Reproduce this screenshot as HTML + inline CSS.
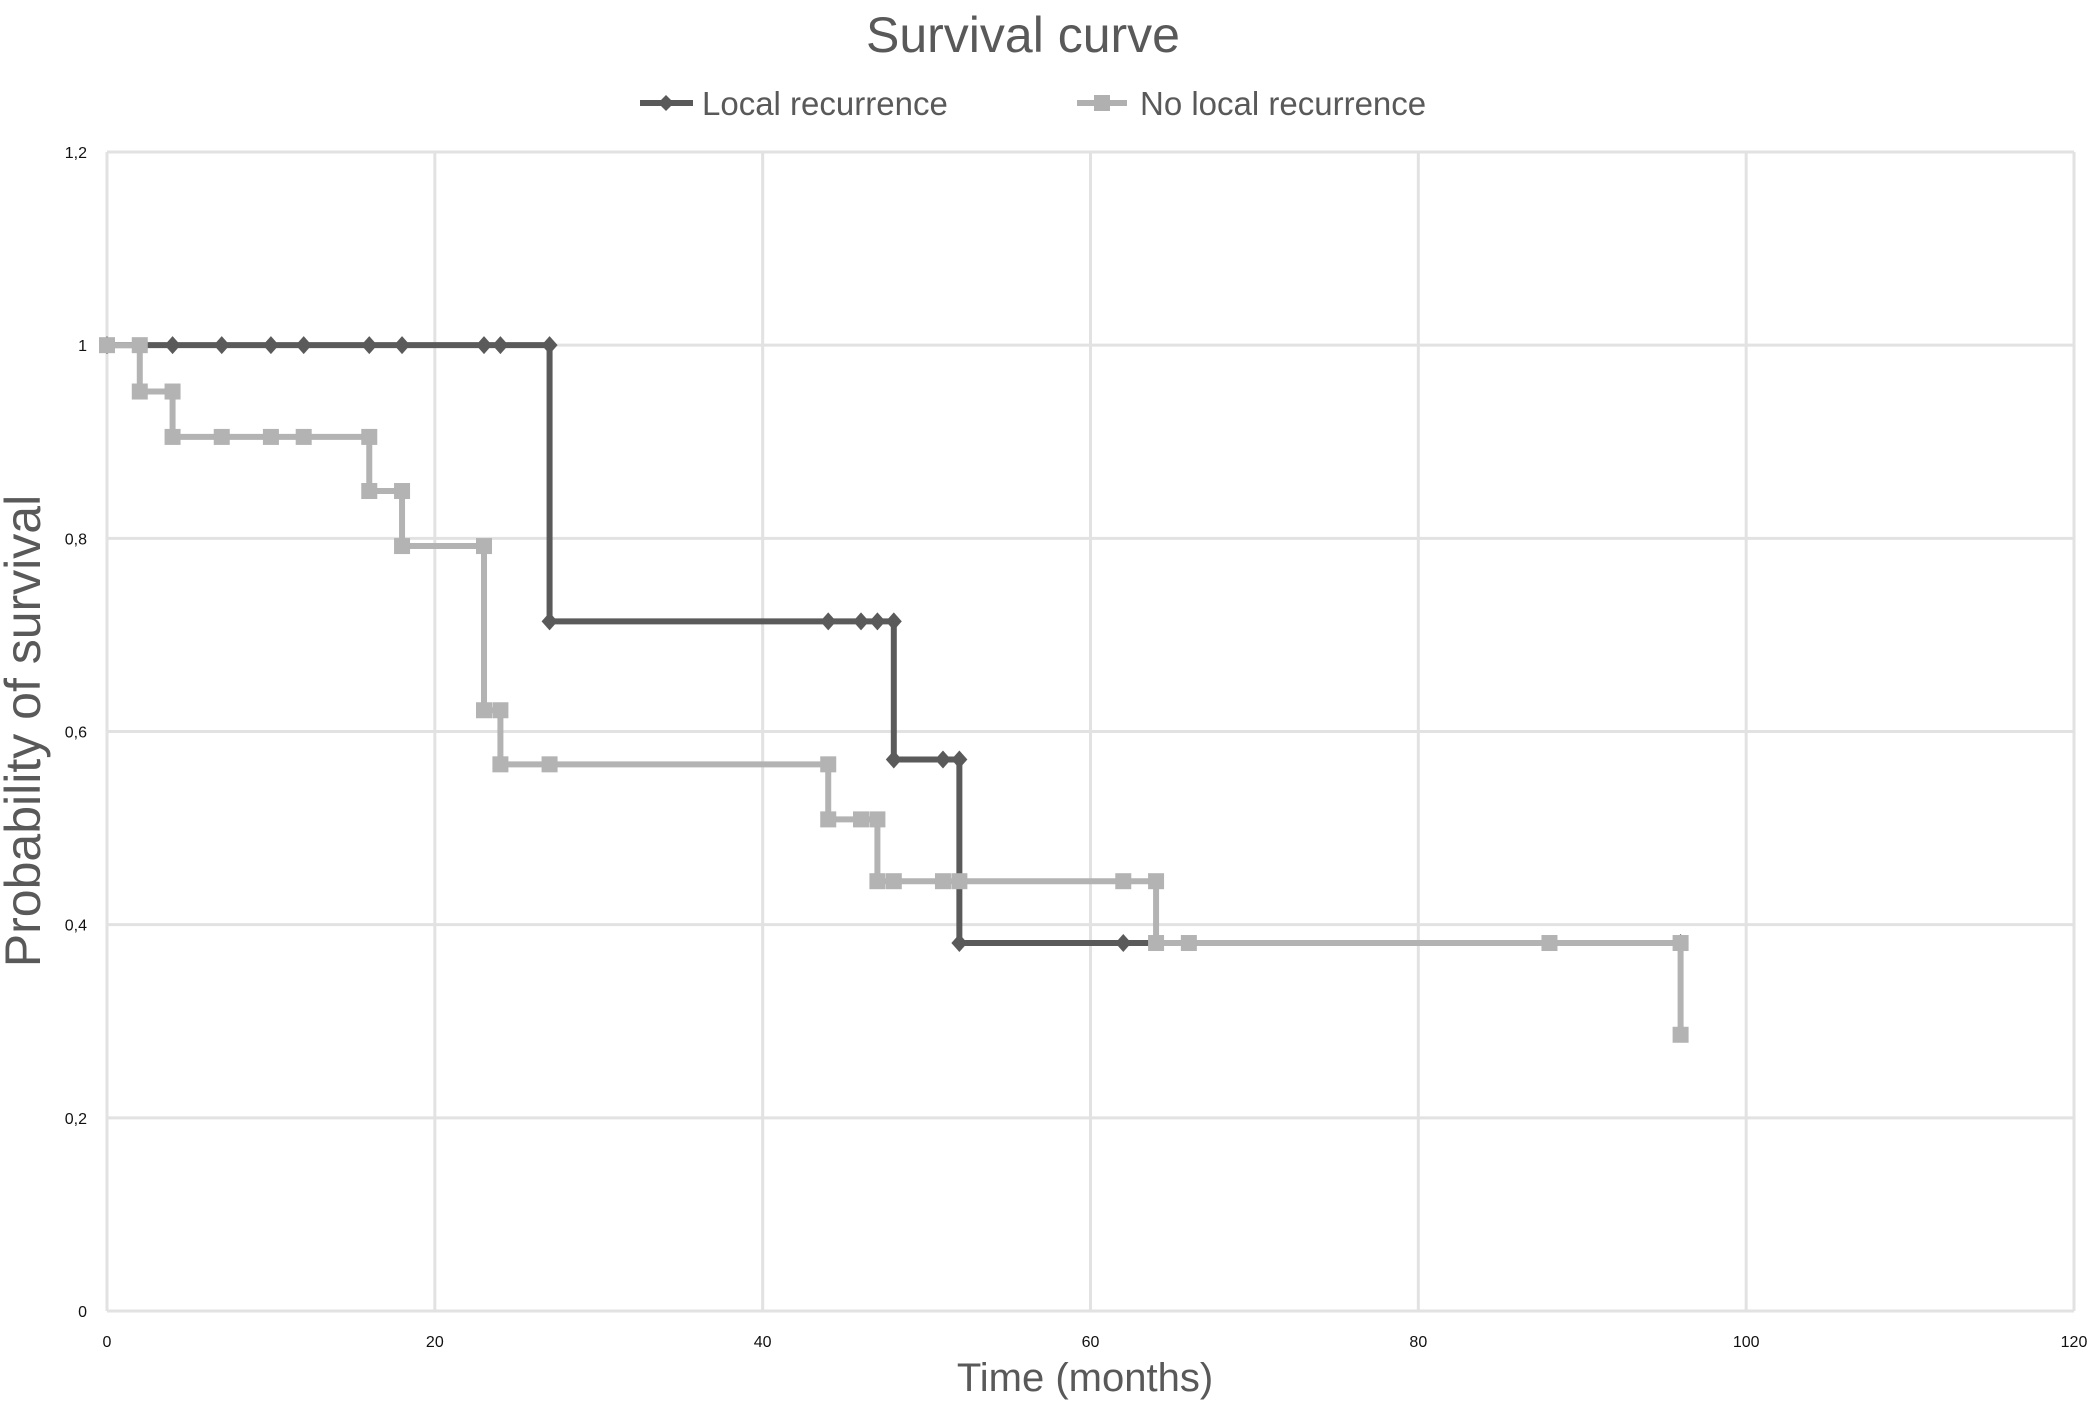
<!DOCTYPE html>
<html><head><meta charset="utf-8"><style>
html,body{margin:0;padding:0;background:#fff;}
svg{display:block;font-family:"Liberation Sans",sans-serif;}
</style></head><body>
<svg id="chart" width="2098" height="1411" viewBox="0 0 2098 1411">
<text x="1023" y="52" text-anchor="middle" font-size="50" fill="#595959">Survival curve</text>
<g>
<g>
<line x1="640" y1="103" x2="693" y2="103" stroke="#595959" stroke-width="6"/>
<polygon points="666,95 674,103 666,111 658,103" fill="#595959"/>
<text x="702" y="115" font-size="33" fill="#595959">Local recurrence</text>
</g>
<g>
<line x1="1077" y1="103" x2="1127" y2="103" stroke="#b0b0b0" stroke-width="6"/>
<rect x="1094" y="95" width="16" height="16" fill="#b0b0b0"/>
<text x="1140" y="115" font-size="33" fill="#595959">No local recurrence</text>
</g>
</g>
<text transform="translate(40,731) rotate(-90)" text-anchor="middle" font-size="50" fill="#595959">Probability of survival</text>
<text x="1085" y="1391" text-anchor="middle" font-size="40" fill="#595959">Time (months)</text>
<g id="grid"></g><g id="ticks"></g><g id="series"></g>
</svg>
<script>
const xTicks=[0,20,40,60,80,100,120];
const yTicks=[0,0.2,0.4,0.6,0.8,1,1.2];
const yTickLabels=["0","0,2","0,4","0,6","0,8","1","1,2"];
const localT=[0,4,7,10,12,16,18,23,24,27,27,44,46,47,48,48,51,52,52,62,96];
const localS=[1,1,1,1,1,1,1,1,1,1,0.714,0.714,0.714,0.714,0.714,0.571,0.571,0.571,0.381,0.381,0.381];
const noLocalT=[0,2,2,4,4,7,10,12,16,16,18,18,23,23,24,24,27,44,44,46,47,47,48,51,52,62,64,64,66,88,96,96];
const noLocalS=[1,1,0.952,0.952,0.905,0.905,0.905,0.905,0.905,0.849,0.849,0.792,0.792,0.622,0.622,0.566,0.566,0.566,0.509,0.509,0.509,0.445,0.445,0.445,0.445,0.445,0.445,0.381,0.381,0.381,0.381,0.286];
const L=107,R=2074,T=152,B=1311;
const sx=v=>L+(v-0)/(120-0)*(R-L);
const sy=v=>B-(v-0)/(1.2-0)*(B-T);
const NS="http://www.w3.org/2000/svg";
function mk(tag,attrs,parent){const e=document.createElementNS(NS,tag);for(const k in attrs)e.setAttribute(k,attrs[k]);parent.appendChild(e);return e;}
const grid=document.getElementById('grid'),ticks=document.getElementById('ticks'),ser=document.getElementById('series');
yTicks.forEach((v,i)=>{
 const g=mk('line',{x1:L,x2:R,y1:sy(v),y2:sy(v),stroke:'#e2e2e2','stroke-width':3},grid);
 
 
 const t=mk('text',{x:L-20,y:sy(v)+6,'text-anchor':'end','font-size':16,fill:'#111'},ticks);
 t.textContent=yTickLabels[i];
 
 
});
xTicks.forEach(v=>{
 const g=mk('line',{x1:sx(v),x2:sx(v),y1:T,y2:B,stroke:'#e2e2e2','stroke-width':3},grid);
 
 
 const t=mk('text',{x:sx(v),y:B+36,'text-anchor':'middle','font-size':16,fill:'#111'},ticks);
 t.textContent=String(v);
 
 
});
function draw(ts,ss,color,shape,name){
 const g=mk('g',{},ser);
 
 
 const pts=ts.map((t,i)=>sx(t)+','+sy(ss[i])).join(' ');
 mk('polyline',{points:pts,fill:'none',stroke:color,'stroke-width':6,'stroke-linejoin':'miter'},g);
 ts.forEach((t,i)=>{
  const x=sx(t),y=sy(ss[i]);
  let m;
  if(shape==='d') m=mk('polygon',{points:`${x},${y-9} ${x+8},${y} ${x},${y+9} ${x-8},${y}`,fill:color},g);
  else m=mk('rect',{x:x-8,y:y-8,width:16,height:16,fill:color},g);
  
  
 });
}
draw(localT,localS,'#5a5a5a','d','local-recurrence-series');
draw(noLocalT,noLocalS,'#b3b3b3','s','no-local-recurrence-series');
</script>
</body></html>
